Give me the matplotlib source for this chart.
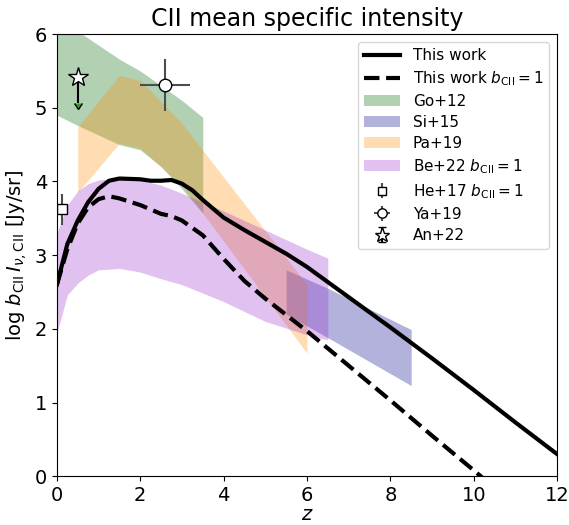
import numpy as np
import matplotlib.pyplot as plt

# this work, mean CII intensity
z_model = [0, 0.25, 0.5, 0.75, 1, 1.25, 1.5, 2, 2.25, 2.5, 2.75, 3, 3.25, 3.5, 4, 4.5, 5, 5.5, 6, 7, 8, 9, 10, 11, 12]
I_model = [2.6, 3.15, 3.47, 3.72, 3.9, 4.01, 4.04, 4.03, 4.01, 4.01, 4.02, 3.97, 3.88, 3.75, 3.51, 3.34, 3.18, 3.02, 2.84, 2.43, 2.02, 1.6, 1.17, 0.73, 0.3]
z_b1 = [0, 0.25, 0.5, 0.75, 1, 1.25, 1.5, 2, 2.5, 2.75, 3, 3.5, 4, 4.5, 5, 5.5, 6, 7, 8, 9, 10, 11, 12]
I_b1 = [2.6, 3.08, 3.43, 3.65, 3.76, 3.8, 3.77, 3.68, 3.56, 3.53, 3.47, 3.27, 2.95, 2.65, 2.41, 2.19, 1.97, 1.5, 1.03, 0.55, 0.08, -0.4, -0.88]

# literature bands
z_go = [0, 0.5, 1, 1.5, 2, 2.5, 3, 3.5]
go_hi = [6.24, 6.04, 5.85, 5.66, 5.5, 5.3, 5.1, 4.87]
go_lo = [4.9, 4.76, 4.63, 4.5, 4.43, 4.2, 3.9, 3.57]

z_si = [5.5, 6.5, 8.5]
si_hi = [2.8, 2.55, 1.99]
si_lo = [2.2, 1.88, 1.23]

z_pa = [0.5, 1.5, 2, 3, 6]
pa_hi = [4.74, 5.44, 5.37, 4.79, 2.6]
pa_lo = [3.85, 4.52, 4.45, 3.95, 1.67]

z_be = [0, 0.25, 0.5, 0.75, 1, 1.5, 2, 2.5, 3, 4, 5, 6, 6.5]
be_hi = [3.3, 3.68, 3.87, 3.97, 4.02, 4.05, 4.02, 3.95, 3.84, 3.6, 3.34, 3.08, 2.96]
be_lo = [1.94, 2.46, 2.62, 2.73, 2.8, 2.82, 2.77, 2.68, 2.6, 2.37, 2.1, 1.92, 1.85]

# single measurements
he_z, he_I, he_err = 0.12, 3.62, 0.21
ya_z, ya_I, ya_zerr, ya_err = 2.6, 5.31, 0.6, 0.35
an_z, an_I, an_err = 0.5, 5.42, 0.36

fig, ax = plt.subplots(figsize=(5.69, 5.25), dpi=100)
fig.subplots_adjust(left=0.1, right=0.979, bottom=0.093, top=0.935)

l1, = ax.plot(z_model, I_model, 'k-', lw=3, label='This work')
l2, = ax.plot(z_b1, I_b1, 'k--', lw=3, label=r'This work $b_{\rm CII}=1$')

f1 = ax.fill_between(z_go, go_lo, go_hi, color='darkgreen', alpha=0.3, lw=0, label='Go+12')
f2 = ax.fill_between(z_si, si_lo, si_hi, color='darkblue', alpha=0.3, lw=0, label='Si+15')
f3 = ax.fill_between(z_pa, pa_lo, pa_hi, color='darkorange', alpha=0.3, lw=0, label='Pa+19')
f4 = ax.fill_between(z_be, be_lo, be_hi, color='darkorchid', alpha=0.3, lw=0, label=r'Be+22 $b_{\rm CII}=1$')

e1 = ax.errorbar(he_z, he_I, yerr=he_err, fmt='s', ms=7, mfc='white', mec='k', ecolor='0.3',
                 label=r'He+17 $b_{\rm CII}=1$')
e2 = ax.errorbar(ya_z, ya_I, xerr=ya_zerr, yerr=ya_err, fmt='o', ms=9, mfc='white', mec='k', ecolor='0.3',
                 label='Ya+19')
e3 = ax.errorbar(an_z, an_I, yerr=an_err, uplims=True, fmt='*', ms=15, mfc='white', mec='k', ecolor='k',
                 label='An+22')

ax.set_xlim(0, 12)
ax.set_ylim(0, 6)
ax.set_xlabel('$z$', fontsize=14, labelpad=0)
ax.set_ylabel(r'log $b_{\rm CII}\, I_{\nu,\rm CII}$ [Jy/sr]', fontsize=14)
ax.set_title('CII mean specific intensity', fontsize=17)
ax.tick_params(labelsize=14)
ax.legend(handles=[l1, l2, f1, f2, f3, f4, e1, e2, e3], loc='upper right', fontsize=11,
          markerscale=0.75, handlelength=2.4, labelspacing=0.4)

plt.savefig('out.png')
